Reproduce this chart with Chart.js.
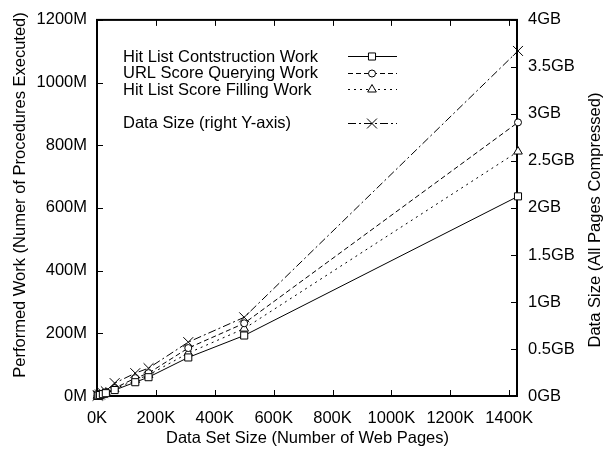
<!DOCTYPE html>
<html>
<head>
<meta charset="utf-8">
<script src="https://cdn.jsdelivr.net/npm/chart.js"></script>
<style>
    body { margin: 0; background: #fff; }
</style>
</head>
<body>
<canvas id="grafico" width="606" height="449"></canvas>
<script>
"use strict"

// number of web pages in each data set
let pages = [2000, 5000, 10000, 20000, 30000, 60000, 130000, 175000, 310000, 500000, 1430000];
// performed work, millions of procedures executed
let hitListWork = [0.5, 1.5, 3, 6, 9, 19, 44, 60, 123, 193, 637];
let urlScoreWork = [0.7, 2, 4, 8, 12, 25, 57, 73, 153, 232, 873];
let scoreFillWork = [0.6, 1.8, 3.5, 7, 11, 22, 51, 67, 137, 215, 780];
// compressed size of all pages, GB
let dataSizeGB = [0.003, 0.008, 0.016, 0.03, 0.05, 0.137, 0.243, 0.296, 0.573, 0.837, 3.67];

let xTicks = [0, 200000, 400000, 600000, 800000, 1000000, 1200000, 1400000];
let yTicks = [0, 200, 400, 600, 800, 1000, 1200];
let y2Ticks = [0, 0.5, 1, 1.5, 2, 2.5, 3, 3.5, 4];

const FONT = "'Liberation Sans', Arial, Helvetica, sans-serif";
const SIZE = 16.5;

function punti(valori) {
    let out = [];
    for (let i = 0; i < pages.length; i++) {
        out.push({ x: pages[i], y: valori[i] });
    }
    return out;
}

function serie(label, valori, dash, style, radius, asse) {
    return {
        label: label,
        data: punti(valori),
        yAxisID: asse,
        borderColor: "#000",
        borderWidth: 1,
        borderDash: dash,
        pointStyle: style,
        pointRadius: radius,
        pointHoverRadius: radius,
        pointBorderColor: "#000",
        pointBackgroundColor: "#fff",
        pointBorderWidth: 1,
        fill: false,
        tension: 0,
        clip: false
    };
}

let datasets = [
    serie("Hit List Contstruction Work", hitListWork, [], "rect", 5, "y"),
    serie("URL Score Querying Work", urlScoreWork, [5, 3], "circle", 3.5, "y"),
    serie("Hit List Score Filling Work", scoreFillWork, [2, 4], "triangle", 5, "y"),
    serie("Data Size (right Y-axis)", dataSizeGB, [8, 3, 2, 3], "crossRot", 7, "y2")
];

// keeps only the listed tick values on a scale
function fissaTicks(valori) {
    return function (scale) {
        scale.ticks = valori.map(v => ({ value: v }));
    };
}

// frame, inward tick marks, axis titles and the key inside the plot
let cornice = {
    id: "cornice",
    beforeDatasetsDraw(chart) {
        let ctx = chart.ctx;
        let a = chart.chartArea;
        let sx = chart.scales.x, sy = chart.scales.y, sy2 = chart.scales.y2;
        ctx.save();
        ctx.strokeStyle = "#000";
        ctx.lineWidth = 1;
        ctx.beginPath();
        for (const t of sx.ticks) {
            let px = Math.round(sx.getPixelForValue(t.value)) + 0.5;
            ctx.moveTo(px, a.bottom); ctx.lineTo(px, a.bottom - 6);
            ctx.moveTo(px, a.top); ctx.lineTo(px, a.top + 6);
        }
        for (const t of sy.ticks) {
            let py = Math.round(sy.getPixelForValue(t.value)) + 0.5;
            ctx.moveTo(a.left, py); ctx.lineTo(a.left + 6, py);
        }
        for (const t of sy2.ticks) {
            let py = Math.round(sy2.getPixelForValue(t.value)) + 0.5;
            ctx.moveTo(a.right, py); ctx.lineTo(a.right - 7, py);
        }
        ctx.stroke();
        ctx.lineWidth = 2;
        ctx.strokeRect(a.left, a.top, a.right - a.left - 1, a.bottom - a.top);

        // both y titles read bottom to top
        ctx.fillStyle = "#000";
        ctx.font = SIZE + "px " + FONT;
        ctx.textAlign = "center";
        ctx.textBaseline = "middle";
        ctx.translate(20, 195);
        ctx.rotate(-Math.PI / 2);
        ctx.fillText("Performed Work (Numer of Procedures Executed)", 0, 0);
        ctx.restore();

        ctx.save();
        ctx.fillStyle = "#000";
        ctx.font = SIZE + "px " + FONT;
        ctx.textAlign = "center";
        ctx.textBaseline = "middle";
        ctx.translate(595, 220);
        ctx.rotate(-Math.PI / 2);
        ctx.fillText("Data Size (All Pages Compressed)", 0, 0);
        ctx.restore();
    },
    afterDraw(chart) {
        let ctx = chart.ctx;
        let rows = [56, 72.5, 89, 122.5];
        ctx.save();
        ctx.font = SIZE + "px " + FONT;
        ctx.textBaseline = "middle";
        ctx.textAlign = "left";
        chart.data.datasets.forEach(function (ds, i) {
            let y = rows[i];
            ctx.fillStyle = "#000";
            ctx.fillText(ds.label, 123, y + 1);
            ctx.strokeStyle = ds.borderColor;
            ctx.lineWidth = ds.borderWidth;
            ctx.setLineDash(ds.borderDash);
            ctx.beginPath();
            ctx.moveTo(348, Math.round(y) + 0.5);
            ctx.lineTo(397, Math.round(y) + 0.5);
            ctx.stroke();
            ctx.setLineDash([]);
            ctx.fillStyle = ds.pointBackgroundColor;
            ctx.strokeStyle = ds.pointBorderColor;
            ctx.lineWidth = ds.pointBorderWidth;
            Chart.helpers.drawPoint(ctx, {
                pointStyle: ds.pointStyle,
                radius: ds.pointRadius,
                rotation: 0,
                borderWidth: ds.pointBorderWidth
            }, 372, Math.round(y) + 0.5);
        });
        ctx.restore();
    }
};

let canvas = document.getElementById("grafico");
let chart = new Chart(canvas, {
    type: "line",
    data: { datasets: datasets },
    plugins: [cornice],
    options: {
        responsive: false,
        animation: false,
        devicePixelRatio: 1,
        layout: { padding: { top: 17, left: 0, right: 0, bottom: 0 } },
        plugins: {
            legend: { display: false },
            tooltip: { enabled: false }
        },
        scales: {
            x: {
                type: "linear",
                position: "bottom",
                min: 0,
                max: 1430000,
                afterBuildTicks: fissaTicks(xTicks),
                afterFit: function (scale) { scale.height = 53; },
                grid: { display: false, drawTicks: false },
                border: { display: false },
                ticks: {
                    padding: 13,
                    color: "#000",
                    font: { family: FONT, size: SIZE },
                    maxRotation: 0,
                    callback: v => (v / 1000) + "K"
                },
                title: {
                    display: true,
                    text: "Data Set Size (Number of Web Pages)",
                    color: "#000",
                    font: { family: FONT, size: SIZE },
                    padding: { top: 0, bottom: 1 }
                }
            },
            y: {
                type: "linear",
                position: "left",
                min: 0,
                max: 1200,
                afterBuildTicks: fissaTicks(yTicks),
                afterFit: function (scale) { scale.width = 97; },
                grid: { display: false, drawTicks: false },
                border: { display: false },
                ticks: {
                    padding: 10,
                    color: "#000",
                    font: { family: FONT, size: SIZE },
                    callback: v => v + "M"
                }
            },
            y2: {
                type: "linear",
                position: "right",
                min: 0,
                max: 4,
                afterBuildTicks: fissaTicks(y2Ticks),
                afterFit: function (scale) { scale.width = 88; },
                grid: { display: false, drawTicks: false },
                border: { display: false },
                ticks: {
                    padding: 10,
                    color: "#000",
                    font: { family: FONT, size: SIZE },
                    callback: v => v + "GB"
                }
            }
        }
    }
});
</script>
</body>
</html>
